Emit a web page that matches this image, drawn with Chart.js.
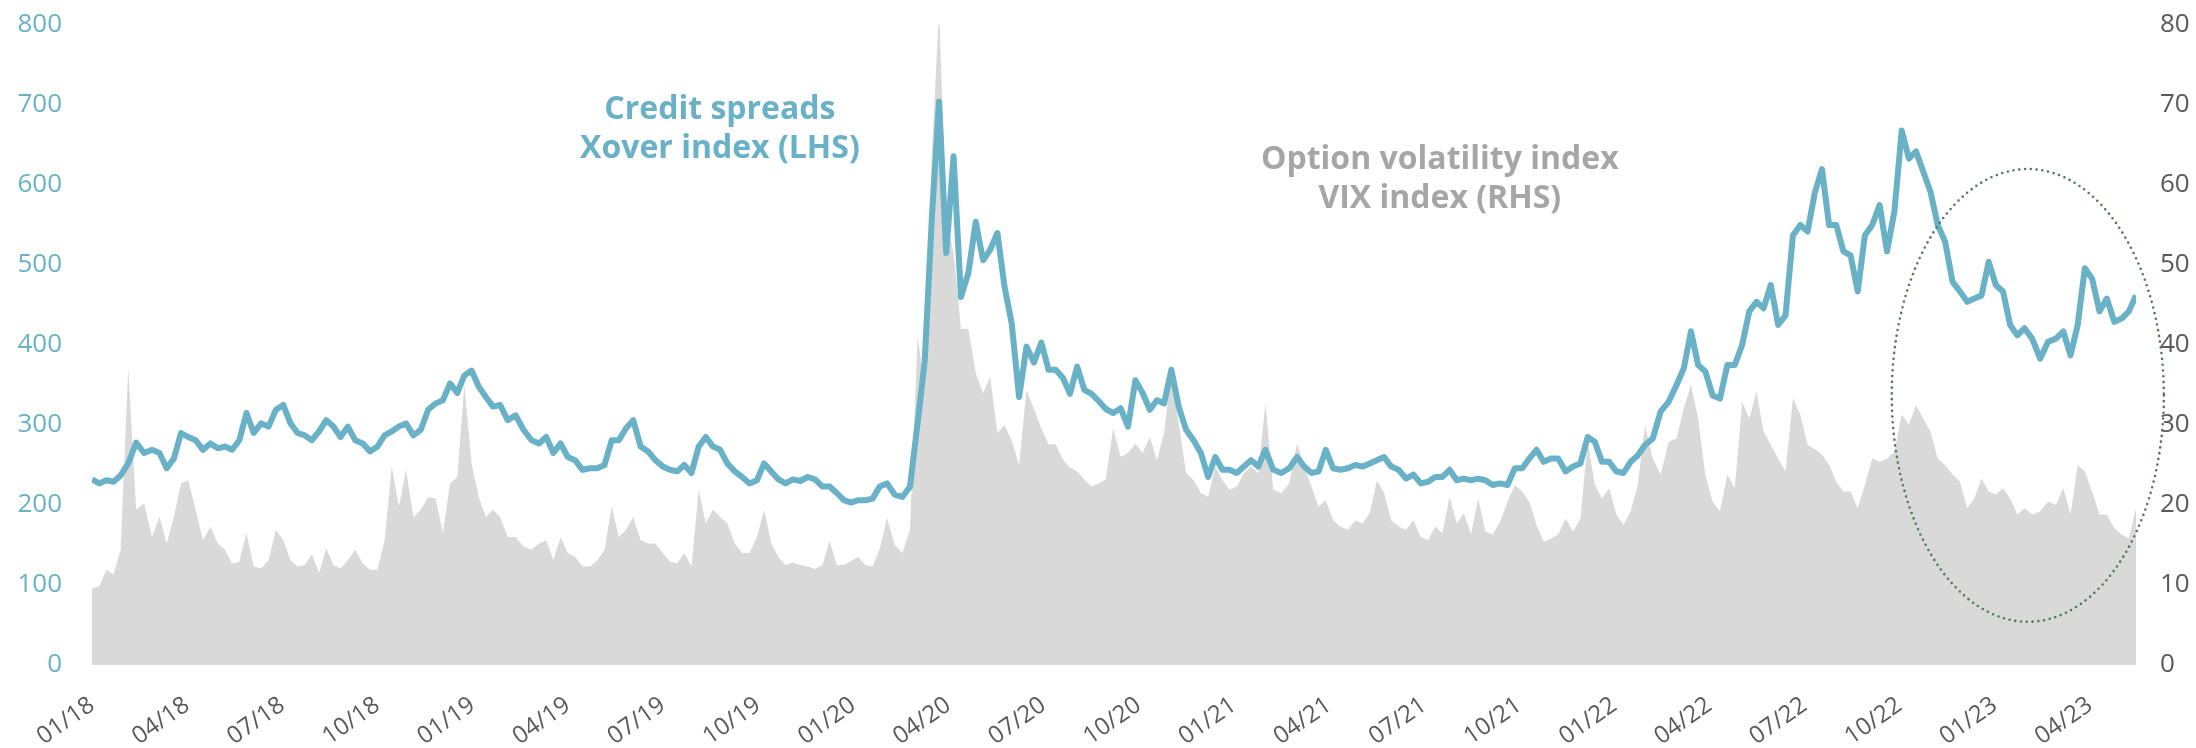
<!DOCTYPE html>
<html>
<head>
<meta charset="utf-8">
<script src="https://cdn.jsdelivr.net/npm/chart.js@4/dist/chart.umd.min.js"></script>
<style>
  html, body { margin: 0; padding: 0; background: #fff; }
  canvas { display: block; }
</style>
</head>
<body>
<canvas id="chart" width="2196" height="748"></canvas>
<script>
// weekly observations, first week starting 2018-01-01
const firstWeek = "2018-01-01";

// Credit spreads, iTraxx Xover (bp, LHS)
const xover = [
  232, 227, 231, 229, 237, 252, 278, 265, 269, 265,
  246, 258, 290, 285, 281, 269, 277, 271, 273, 269,
  281, 315, 290, 302, 298, 319, 325, 302, 290, 287,
  281, 292, 306, 298, 285, 298, 281, 277, 267, 273,
  287, 292, 298, 302, 287, 294, 319, 327, 331, 352,
  340, 362, 368, 348, 335, 323, 325, 306, 312, 294,
  281, 277, 285, 265, 277, 260, 256, 244, 246, 246,
  250, 281, 281, 296, 306, 273, 267, 256, 248, 244,
  242, 250, 240, 273, 285, 273, 269, 252, 242, 235,
  227, 231, 252, 242, 232, 227, 232, 230, 235, 232,
  223, 223, 215, 206, 203, 206, 206, 208, 223, 227,
  213, 210, 223, 302, 380, 560, 704, 515, 636, 460,
  490, 554, 506, 519, 540, 473, 427, 335, 398, 378,
  403, 369, 369, 359, 339, 373, 344, 339, 330, 320,
  315, 321, 298, 356, 340, 319, 331, 327, 369, 323,
  294, 281, 265, 235, 260, 244, 244, 240, 248, 256,
  248, 269, 244, 240, 246, 260, 248, 240, 242, 269,
  246, 244, 246, 250, 248, 252, 256, 260, 248, 244,
  233, 238, 227, 229, 235, 235, 244, 231, 233, 231,
  233, 231, 225, 227, 225, 246, 246, 258, 269, 254,
  258, 258, 242, 248, 252, 285, 279, 254, 254, 242,
  240, 254, 262, 275, 283, 317, 329, 350, 371, 417,
  375, 367, 337, 333, 375, 375, 400, 442, 454, 446,
  475, 425, 437, 537, 550, 542, 590, 620, 550, 550,
  517, 512, 467, 537, 550, 575, 517, 567, 668, 633,
  642, 617, 592, 550, 529, 479, 467, 454, 458, 462,
  504, 475, 467, 425, 412, 421, 408, 383, 404, 408,
  417, 387, 425, 496, 483, 442, 458, 429, 433, 442,
  462
];

// Option volatility, VIX index (RHS)
const vix = [
  9.6, 9.8, 11.9, 11.3, 14.4, 37.1, 19.4, 20.2, 16, 18.5,
  15.2, 18.5, 22.7, 23.1, 19.4, 15.6, 17.3, 15.2, 14.4, 12.7,
  12.9, 16.5, 12.3, 12.1, 13.1, 16.9, 15.6, 13.1, 12.3, 12.5,
  13.8, 11.5, 14.6, 12.5, 12.1, 13.1, 14.4, 12.7, 11.9, 11.9,
  15.6, 24.8, 19.8, 24.4, 18.5, 19.4, 21, 20.8, 16.5, 22.7,
  23.5, 35, 25.2, 21, 18.5, 19.4, 18.5, 16, 16, 14.8,
  14.4, 15.2, 15.6, 13.1, 16, 14, 13.5, 12.3, 12.3, 13.1,
  14.4, 19.8, 16, 16.9, 18.5, 15.6, 15.2, 15.2, 14, 12.9,
  12.7, 14, 12.3, 21.9, 17.7, 19.4, 18.5, 17.7, 15.2, 14,
  14, 16, 19.4, 15.2, 13.5, 12.5, 12.8, 12.5, 12.3, 12,
  12.5, 15.5, 12.5, 12.5, 13, 13.5, 12.5, 12.3, 14.5, 18.4,
  15, 14, 17, 41, 35, 64, 82, 56, 51.5, 42,
  42, 36.5, 34, 36, 29, 30, 28, 25, 34.4, 32,
  29.6, 27.6, 27.6, 25.7, 24.7, 24.2, 23.2, 22.3, 22.7, 23.2,
  29.6, 26, 26.5, 27.7, 26.5, 28.5, 25.6, 29, 36.9, 30.2,
  24, 23.1, 21.5, 21, 24.8, 23.1, 21.9, 22.3, 24, 24.8,
  24, 32.7, 21.9, 21.5, 22.7, 27.7, 24.8, 22.3, 19.8, 20.6,
  18.1, 17.3, 16.9, 18.1, 17.7, 19, 23.1, 21.5, 18.1, 17.3,
  16.9, 18.1, 16, 15.6, 17.3, 16.5, 21, 17.7, 19, 16.3,
  20.8, 16.7, 16.3, 17.9, 20.4, 22.5, 21.7, 20.4, 17.5, 15.4,
  15.8, 16.3, 18.3, 16.7, 18.3, 27.9, 22.5, 20.8, 22.1, 18.8,
  17.5, 19.2, 22.5, 30, 25.8, 23.8, 27.9, 28.3, 32.1, 35,
  30.8, 23.8, 20.4, 19.2, 23.8, 22.1, 32.9, 30.8, 34.2, 29.2,
  27.5, 25.8, 24.2, 33.3, 31.3, 27.5, 27, 26.3, 25, 22.9,
  21.7, 21.7, 19.6, 22.5, 25.8, 25.4, 25.8, 26.7, 31.3, 30,
  32.5, 30.8, 29.2, 25.8, 25, 23.8, 22.9, 19.6, 20.8, 23.3,
  21.7, 21.3, 22.1, 20.8, 18.8, 19.6, 18.8, 19.2, 20.4, 20,
  22.1, 18.8, 25, 24.2, 21.7, 18.8, 18.8, 17.1, 16.3, 15.8,
  19.6
];

const leftTicks = [0, 800, 100];   // min, max, step (bp)
const rightTicks = [0, 80, 10];    // min, max, step (VIX)

// text labels placed in data units: x in months since 01/18, y on the given axis
const notes = [
  { lines: ["Credit spreads", "Xover index (LHS)"], x: 19.8, y: 694, axis: "y", color: "#68b1c7" },
  { lines: ["Option volatility index", "VIX index (RHS)"], x: 42.5, y: 63.1, axis: "y1", color: "#a6a6a6" },
];
// dotted ellipse marking the recent period: centre and radii in data units (RHS)
const highlight = { x: 61.04, y: 33.7, rx: 4.29, ry: 28.3 };

const TEAL = "#68b1c7";
const GREY_TXT = "#595959";

// week -> months since Jan 2018
function monthsOf(i) {
  const d = new Date(firstWeek + "T00:00:00Z");
  d.setUTCDate(d.getUTCDate() + 7 * i);
  const y = d.getUTCFullYear(), m = d.getUTCMonth();
  const dim = new Date(Date.UTC(y, m + 1, 0)).getUTCDate();
  return (y - 2018) * 12 + m + (d.getUTCDate() - 1) / dim;
}

function tickLabel(v) {
  const m = (v % 12) + 1;
  const yy = 18 + Math.floor(v / 12);
  return `${String(m).padStart(2, "0")}/${yy}`;
}

// fixed axis box sizes, so the plot area sits where it does in the original
function fixWidth(w) {
  return (scale) => {
    scale.width = w;
    scale.paddingTop = 15;
    scale.paddingBottom = 15;
  };
}

const notesPlugin = {
  id: "notes",
  afterDatasetsDraw(chart) {
    const { ctx, scales } = chart;
    ctx.save();
    ctx.font = 'bold 32px "Open Sans"';
    ctx.textAlign = "center";
    ctx.textBaseline = "middle";
    notes.forEach((n) => {
      const px = scales.x.getPixelForValue(n.x);
      const py = scales[n.axis].getPixelForValue(n.y);
      ctx.fillStyle = n.color;
      n.lines.forEach((t, i) => ctx.fillText(t, px, py + i * 39));
    });

    const cx = scales.x.getPixelForValue(highlight.x);
    const cy = scales.y1.getPixelForValue(highlight.y);
    const rx = scales.x.getPixelForValue(highlight.x + highlight.rx) - cx;
    const ry = cy - scales.y1.getPixelForValue(highlight.y + highlight.ry);
    ctx.beginPath();
    ctx.ellipse(cx, cy, rx, ry, 0, 0, Math.PI * 2);
    ctx.strokeStyle = "#4f7a5a";
    ctx.lineWidth = 2.6;
    ctx.lineCap = "round";
    ctx.setLineDash([0, 5.8]);
    ctx.stroke();
    ctx.restore();
  },
};

function buildChart() {
  const xs = xover.map((_, i) => monthsOf(i));
  const ctx = document.getElementById("chart").getContext("2d");

  new Chart(ctx, {
    type: "line",
    data: {
      datasets: [
        {
          label: "Xover",
          data: xover.map((v, i) => ({ x: xs[i], y: v })),
          yAxisID: "y",
          borderColor: TEAL,
          borderWidth: 6,
          pointRadius: 0,
          fill: false,
          tension: 0,
          borderJoinStyle: "round",
          order: 0,
        },
        {
          label: "VIX",
          data: vix.map((v, i) => ({ x: xs[i], y: v })),
          yAxisID: "y1",
          borderWidth: 0,
          backgroundColor: "#d9d9d9",
          pointRadius: 0,
          fill: "origin",
          tension: 0,
          order: 1,
        },
      ],
    },
    options: {
      responsive: false,
      animation: false,
      devicePixelRatio: 1,
      layout: { padding: { top: 25, left: 0, right: 0, bottom: 0 } },
      plugins: { legend: { display: false }, tooltip: { enabled: false } },
      scales: {
        x: {
          type: "linear",
          min: 0,
          max: xs[xs.length - 1],
          grid: { display: false, drawTicks: false },
          border: { display: false },
          afterBuildTicks: (scale) => {
            const t = [];
            for (let v = 0; v <= scale.max; v += 3) t.push({ value: v });
            scale.ticks = t;
          },
          afterFit: (scale) => { scale.height = 83; },
          ticks: {
            autoSkip: false,
            minRotation: 35,
            maxRotation: 35,
            padding: 26,
            color: GREY_TXT,
            font: { family: "Open Sans", size: 24 },
            callback: (v) => tickLabel(v),
          },
        },
        y: {
          position: "left",
          min: leftTicks[0],
          max: leftTicks[1],
          grid: { display: false, drawTicks: false },
          border: { display: false },
          afterFit: fixWidth(92),
          ticks: {
            stepSize: leftTicks[2],
            padding: 30,
            color: TEAL,
            font: { family: "Open Sans", size: 26 },
          },
        },
        y1: {
          position: "right",
          min: rightTicks[0],
          max: rightTicks[1],
          grid: { display: false, drawTicks: false },
          border: { display: false },
          afterFit: fixWidth(60),
          ticks: {
            stepSize: rightTicks[2],
            padding: 24,
            color: GREY_TXT,
            font: { family: "Open Sans", size: 26 },
          },
        },
      },
    },
    plugins: [notesPlugin],
  });
}

document.addEventListener("DOMContentLoaded", buildChart);
</script>
</body>
</html>
